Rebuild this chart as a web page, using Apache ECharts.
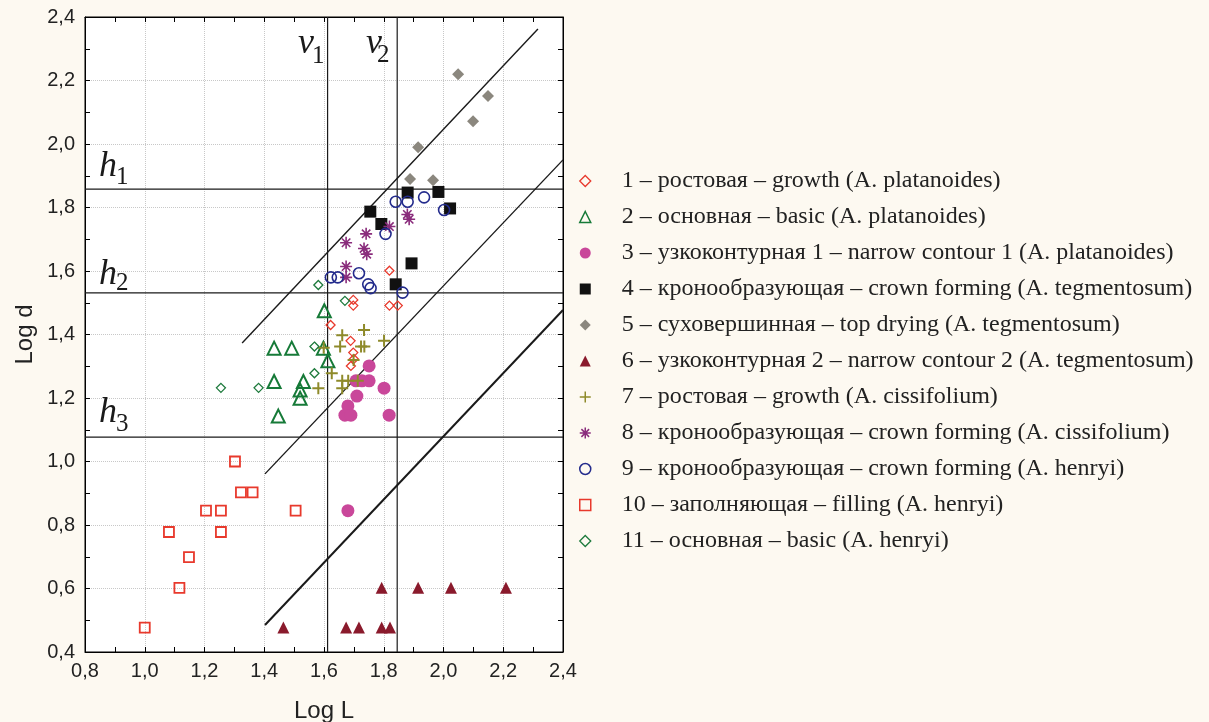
<!DOCTYPE html>
<html><head><meta charset="utf-8">
<script src="https://cdn.jsdelivr.net/npm/echarts@6/dist/echarts.min.js"></script>
<style>html,body{margin:0;padding:0;background:#fdf9f1;}#c{width:1209px;height:722px;}</style>
</head><body><div id="c"></div>
<script>
// ---- data (Log L, Log d) ----
const names = [
  '1 – ростовая – growth (A. platanoides)',
  '2 – основная – basic (A. platanoides)',
  '3 – узкоконтурная 1 – narrow contour 1 (A. platanoides)',
  '4 – кронообразующая – crown forming (A. tegmentosum)',
  '5 – суховершинная – top drying (A. tegmentosum)',
  '6 – узкоконтурная 2 – narrow contour 2 (A. tegmentosum)',
  '7 – ростовая – growth (A. cissifolium)',
  '8 – кронообразующая – crown forming (A. cissifolium)',
  '9 – кронообразующая – crown forming (A. henryi)',
  '10 – заполняющая – filling (A. henryi)',
  '11 – основная – basic (A. henryi)'
];
const s1x = [1.622, 1.698, 1.698, 1.819, 1.819, 1.847, 1.689, 1.698, 1.700, 1.690];
const s1y = [1.430, 1.509, 1.491, 1.601, 1.491, 1.491, 1.380, 1.343, 1.323, 1.301];
const s2x = [1.433, 1.492, 1.601, 1.598, 1.613, 1.433, 1.531, 1.520, 1.520, 1.447];
const s2y = [1.357, 1.357, 1.475, 1.357, 1.317, 1.252, 1.252, 1.225, 1.199, 1.143];
const s3x = [1.751, 1.707, 1.727, 1.751, 1.801, 1.710, 1.680, 1.670, 1.690, 1.818, 1.680];
const s3y = [1.301, 1.254, 1.254, 1.254, 1.231, 1.206, 1.175, 1.146, 1.146, 1.146, 0.845];
const s4x = [1.880, 1.983, 2.022, 1.755, 1.792, 1.893, 1.840];
const s4y = [1.847, 1.849, 1.797, 1.787, 1.748, 1.624, 1.558];
const s5x = [2.049, 2.149, 2.099, 1.915, 1.888, 1.965];
const s5y = [2.220, 2.151, 2.072, 1.990, 1.890, 1.886];
const s6x = [1.464, 1.674, 1.717, 1.793, 1.821, 1.793, 1.915, 2.025, 2.209];
const s6y = [0.477, 0.477, 0.477, 0.477, 0.477, 0.602, 0.602, 0.602, 0.602];
const s7x = [1.734, 1.661, 1.801, 1.599, 1.654, 1.724, 1.735, 1.699, 1.626, 1.661, 1.681, 1.713, 1.661, 1.581];
const s7y = [1.414, 1.398, 1.380, 1.358, 1.362, 1.362, 1.362, 1.320, 1.278, 1.254, 1.254, 1.254, 1.231, 1.231];
const s8x = [1.879, 1.885, 1.819, 1.741, 1.674, 1.734, 1.743, 1.674, 1.674];
const s8y = [1.778, 1.763, 1.740, 1.717, 1.689, 1.671, 1.653, 1.614, 1.580];
const s9x = [1.840, 1.880, 1.935, 2.002, 1.806, 1.623, 1.646, 1.717, 1.748, 1.756, 1.863];
const s9y = [1.818, 1.818, 1.832, 1.792, 1.717, 1.580, 1.580, 1.593, 1.558, 1.546, 1.532];
const s10x = [1.000, 1.116, 1.148, 1.081, 1.255, 1.205, 1.255, 1.505, 1.322, 1.361, 1.302];
const s10y = [0.477, 0.602, 0.699, 0.778, 0.778, 0.845, 0.845, 0.845, 0.903, 0.903, 1.000];
const s11x = [1.581, 1.255, 1.381, 1.568, 1.568, 1.670];
const s11y = [1.556, 1.232, 1.232, 1.362, 1.278, 1.506];

// reference lines
const vLines = [1.612, 1.845];
const hLines = [1.858, 1.531, 1.077];
const diagA = [[1.326, 1.373], [2.316, 2.362]];
const diagB = [[1.4025, 0.961], [2.4, 1.950]];
const diagC = [[1.4025, 0.485], [2.4, 1.477]];
const xRange = [0.8, 2.4];
const yRange = [0.4, 2.4];

// ---- styles ----
const PLUS = 'path://M0,5L10,5M5,0L5,10';
const STAR = 'path://M5,0L5,10M0,5L10,5M1.5,1.5L8.5,8.5M8.5,1.5L1.5,8.5';
const styles = [
  {symbol: 'diamond', size: 9, fill: 'transparent', stroke: '#e8392c', bw: 1.3},
  {symbol: 'triangle', size: 13, fill: 'transparent', stroke: '#167a38', bw: 2},
  {symbol: 'circle', size: 13, fill: '#c9479a', stroke: null, bw: 0},
  {symbol: 'rect', size: 12, fill: '#111111', stroke: null, bw: 0},
  {symbol: 'diamond', size: 12, fill: '#8b877e', stroke: null, bw: 0},
  {symbol: 'triangle', size: 12, fill: '#8a1a2c', stroke: null, bw: 0},
  {symbol: PLUS, size: 12, fill: 'transparent', stroke: '#8e8a2a', bw: 2},
  {symbol: STAR, size: 12, fill: 'transparent', stroke: '#8a2c7c', bw: 1.6},
  {symbol: 'circle', size: 11, fill: 'transparent', stroke: '#232b8c', bw: 1.6},
  {symbol: 'rect', size: 10, fill: 'transparent', stroke: '#e8392c', bw: 1.8},
  {symbol: 'diamond', size: 9, fill: 'transparent', stroke: '#1d7a3c', bw: 1.3}
];
const xs = [s1x, s2x, s3x, s4x, s5x, s6x, s7x, s8x, s9x, s10x, s11x];
const ys = [s1y, s2y, s3y, s4y, s5y, s6y, s7y, s8y, s9y, s10y, s11y];

const zip = (a, b) => a.map((v, i) => [v, b[i]]);
const fmt = v => v.toFixed(1).replace('.', ',');

const series = [];
const lineSeries = (data, w) => ({
  type: 'line', data, symbol: 'none', silent: true, z: 1,
  lineStyle: {color: '#1a1a1a', width: w}, animation: false
});
vLines.forEach(v => series.push(lineSeries([[v, yRange[0]], [v, yRange[1]]], 1.2)));
hLines.forEach(h => series.push(lineSeries([[xRange[0], h], [xRange[1], h]], 1.2)));
series.push(lineSeries(diagA, 1.4));
series.push(lineSeries(diagB, 1.4));
series.push(lineSeries(diagC, 2));

names.forEach((n, i) => {
  const st = styles[i];
  series.push({
    type: 'scatter', name: n, data: zip(xs[i], ys[i]),
    symbol: st.symbol, symbolSize: st.size, z: 3, animation: false,
    itemStyle: Object.assign({color: st.fill, opacity: 1},
      st.stroke ? {borderColor: st.stroke, borderWidth: st.bw} : {})
  });
});

const axisCommon = {
  type: 'value', interval: 0.2,
  axisLine: {show: true, lineStyle: {color: '#000', width: 1}},
  axisTick: {show: true, inside: true, length: 5, lineStyle: {color: '#000'}},
  minorTick: {show: true, splitNumber: 2, length: 5, lineStyle: {color: '#000'}}
};
const labelStyle = {fontFamily: 'Liberation Sans, Arial', fontSize: 20, color: '#222'};

const option = {
  backgroundColor: '#fdf9f1',
  grid: {left: 85, right: 646, top: 17, bottom: 70, show: true, backgroundColor: '#ffffff',
         borderColor: '#000', borderWidth: 1, containLabel: false, outerBoundsMode: 'none'},
  xAxis: [
    Object.assign({}, axisCommon, {
      min: xRange[0], max: xRange[1], position: 'bottom',
      axisLabel: Object.assign({formatter: fmt, margin: 9}, labelStyle),
      splitLine: {show: true, lineStyle: {type: 'dotted', color: '#c8c8c8'}},
      name: 'Log L', nameLocation: 'middle', nameGap: 47,
      nameTextStyle: {fontFamily: 'Liberation Sans, Arial', fontSize: 24, color: '#222'}
    }),
    Object.assign({}, axisCommon, {
      min: xRange[0], max: xRange[1], position: 'top',
      axisLabel: {show: false}, splitLine: {show: false}
    })
  ],
  yAxis: [
    Object.assign({}, axisCommon, {
      min: yRange[0], max: yRange[1], position: 'left',
      axisLabel: Object.assign({formatter: fmt, margin: 10}, labelStyle),
      splitLine: {show: true, lineStyle: {type: 'dotted', color: '#c8c8c8'}},
      name: 'Log d', nameLocation: 'middle', nameGap: 48, nameRotate: 90,
      nameTextStyle: {fontFamily: 'Liberation Sans, Arial', fontSize: 24, color: '#222'}
    }),
    Object.assign({}, axisCommon, {
      min: yRange[0], max: yRange[1], position: 'right',
      axisLabel: {show: false}, splitLine: {show: false}
    })
  ],
  legend: {
    orient: 'vertical', left: 579, top: 169, padding: 0,
    itemWidth: 11, itemHeight: 11, itemGap: 12,
    data: names.map((n, i) => styles[i].stroke ? {name: n, itemStyle: {borderWidth: Math.min(styles[i].bw, 1.5)}} : {name: n}),
    textStyle: {fontFamily: 'Liberation Serif, Times New Roman, serif', fontSize: 24, color: '#222', lineHeight: 24, padding: [0, 0, 0, 26]},
    selectedMode: false
  },
  series,
  graphic: []
};

const chart = echarts.init(document.getElementById('c'));
chart.setOption(option);

// annotation labels v1, v2, h1, h2, h3
const ann = [
  {main: 'v', sub: '1', x: 298, base: 56, sx: 312, sbase: 64},
  {main: 'v', sub: '2', x: 366, base: 56, sx: 377, sbase: 63},
  {main: 'h', sub: '1', x: 99, base: 179, sx: 116, sbase: 185},
  {main: 'h', sub: '2', x: 99, base: 287, sx: 116, sbase: 291},
  {main: 'h', sub: '3', x: 99, base: 425, sx: 116, sbase: 432}
];
const gr = [];
ann.forEach(a => {
  gr.push({type: 'text', z: 10, style: {text: a.main, x: a.x, y: a.base - 12, verticalAlign: 'middle',
    font: 'italic 36px "Liberation Serif", "Times New Roman", serif', fill: '#1a1a1a'}});
  gr.push({type: 'text', z: 10, style: {text: a.sub, x: a.sx, y: a.sbase - 8, verticalAlign: 'middle',
    font: '25px "Liberation Serif", "Times New Roman", serif', fill: '#1a1a1a'}});
});
chart.setOption({graphic: gr});
</script>
</body></html>
